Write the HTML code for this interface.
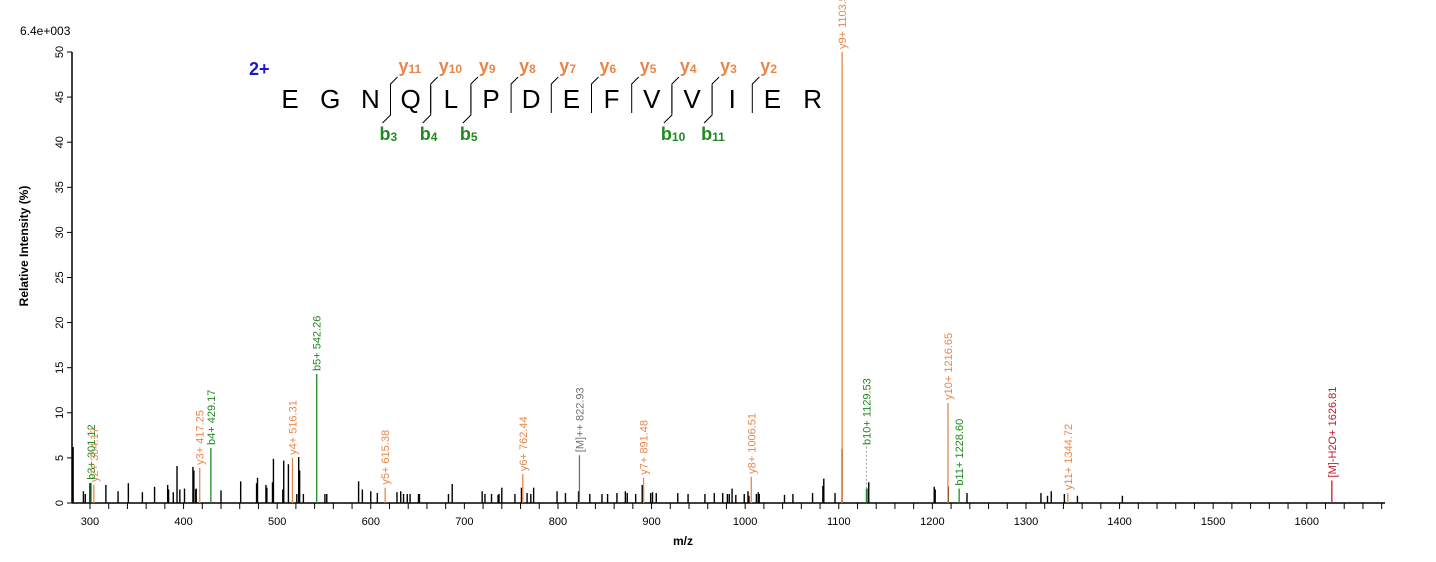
<!DOCTYPE html>
<html><head><meta charset="utf-8"><style>
body{margin:0;background:#fff;}
svg{display:block;font-family:"Liberation Sans",Arial,sans-serif;}
</style></head><body>
<svg id="chart" width="1436" height="562" xmlns="http://www.w3.org/2000/svg">
<text x="20" y="35" font-size="12">6.4e+003</text>
<text transform="translate(28,246) rotate(-90)" text-anchor="middle" font-size="12" font-weight="bold">Relative   Intensity (%)</text>
<text x="683" y="545" text-anchor="middle" font-size="12" font-weight="bold">m/z</text>
<text x="249" y="75" font-size="18" font-weight="bold" fill="#1a1ac8">2+</text>
<g id="axes"></g><g id="peaks"></g><g id="seq"></g>
</svg>
<script>
const peakMz=[282,293,295,300,317,330,341,356,369,383,384,389,393,396,401,410,411,413,413.5,440,461,478,479,488,489,495,496,506,507,512,521,523,524,528,551,553,587,591,600,607,628,632,635,639,642,651,652,683,687,719,722,729,736,737,740,754,761,767,771,774,799,808,822,834,847,853,863,872,874,883,890,899,901,905,928,939,957,967,976,981,983,986,990,999,1003,1004,1012,1014,1015,1042,1051,1072,1083,1084,1096,1103.5,1130,1132,1202,1203,1217,1237,1316,1323,1327,1341,1355,1403];
const peakInt=[6.2,1.3,1.0,2.2,2.0,1.3,2.2,1.2,1.8,2.0,1.5,1.2,4.1,1.5,1.6,4.0,3.6,1.5,1.6,1.4,2.4,2.2,2.8,2.0,1.7,2.3,4.9,1.5,4.7,4.3,1.0,5.1,3.6,1.0,1.0,1.0,2.4,1.5,1.3,1.1,1.2,1.3,1.0,1.0,1.0,1.0,1.0,1.0,2.1,1.3,1.0,1.0,0.9,1.0,1.7,1.0,1.7,1.1,1.0,1.7,1.3,1.1,1.3,1.0,1.0,1.0,1.1,1.3,1.1,1.0,2.0,1.1,1.2,1.1,1.1,1.0,1.0,1.1,1.1,1.0,1.0,1.6,0.9,1.0,1.3,0.8,1.0,1.2,1.0,0.9,1.0,1.1,1.9,2.7,1.1,6.0,1.6,2.3,1.8,1.5,1.8,1.1,1.1,0.8,1.3,1.0,0.8,0.8];
const ionLabels=["b3+ 301.12","y2+ 304.17","y3+ 417.25","b4+ 429.17","y4+ 516.31","b5+ 542.26","y5+ 615.38","y6+ 762.44","[M]++ 822.93","y7+ 891.48","y8+ 1006.51","y9+ 1103.57","b10+ 1129.53","y10+ 1216.65","b11+ 1228.60","y11+ 1344.72","[M]-H2O+ 1626.81"];
const ionMz=[301.12,304.17,417.25,429.17,516.31,542.26,615.38,762.44,822.93,891.48,1006.51,1103.57,1129.53,1216.65,1228.60,1344.72,1626.81];
const ionInt=[2.25,2.0,3.9,6.1,5.0,14.3,1.7,3.2,5.3,2.8,2.9,50,1.6,11.1,1.6,1.1,2.5];
const ionType=["b","y","y","b","y","b","y","y","m","y","y","y","b","y","b","y","w"];
const xTicks=[300,400,500,600,700,800,900,1000,1100,1200,1300,1400,1500,1600];
const yTicks=[0,5,10,15,20,25,30,35,40,45,50];
const residues=["E","G","N","Q","L","P","D","E","F","V","V","I","E","R"];
const yIons=[11,10,9,8,7,6,5,4,3,2];
const bIons=[3,4,5,10,11];

const NS="http://www.w3.org/2000/svg";
const X0=72,X1=1385,MZ0=280.8,PXMZ=0.936,Y0=503,PXI=9.02;
const sx=m=>X0+(m-MZ0)*PXMZ, sy=v=>Y0-v*PXI;
function mk(p,tag,at){const e=document.createElementNS(NS,tag);for(const k in at)e.setAttribute(k,at[k]);p.appendChild(e);return e;}
const axes=document.getElementById('axes'),pk=document.getElementById('peaks'),sq=document.getElementById('seq');
let l=mk(axes,'line',{x1:X0,y1:Y0,x2:X1,y2:Y0,stroke:'#000','stroke-width':1.5});

l=mk(axes,'line',{x1:X0,y1:Y0,x2:X0,y2:sy(50),stroke:'#000','stroke-width':1.5});

for(let m=300;m<=1680;m+=20){const t=mk(axes,'line',{x1:sx(m),y1:Y0,x2:sx(m),y2:Y0+6,stroke:'#000'});
}
xTicks.forEach(v=>{const t=mk(axes,'text',{x:sx(v),y:Y0+22,'text-anchor':'middle','font-size':11});t.textContent=v;
});
yTicks.forEach(v=>{const t=mk(axes,'line',{x1:X0-5,y1:sy(v),x2:X0,y2:sy(v),stroke:'#000'});

const s=mk(axes,'text',{transform:`translate(${X0-9},${sy(v)}) rotate(-90)`,'text-anchor':'middle','font-size':11});s.textContent=v;
});
peakMz.forEach((m,i)=>{const p=mk(pk,'line',{x1:sx(m),y1:Y0,x2:sx(m),y2:sy(peakInt[i]),stroke:'#000','stroke-width':1.4});
});
const col={b:'#1f8a1f',y:'#e8864a',m:'#707070',w:'#c01b2a'};
ionMz.forEach((m,i)=>{const c=col[ionType[i]];const x=sx(m),top=sy(ionInt[i]);
const p=mk(pk,'line',{x1:x,y1:Y0,x2:x,y2:top,stroke:c,'stroke-width':1.3});

let ly=top-3;
if(ionLabels[i].startsWith('b10')){ly=445;const d=mk(pk,'line',{x1:x,y1:top,x2:x,y2:ly,stroke:'#999','stroke-dasharray':'2,2'});
}
const t=mk(pk,'text',{transform:`translate(${x+4},${ly}) rotate(-90)`,'font-size':11,fill:c});t.textContent=ionLabels[i];
});
// sequence
const L0=290,DX=40.2;
residues.forEach((r,i)=>{const t=mk(sq,'text',{x:L0+i*DX,y:108,'text-anchor':'middle','font-size':26});t.textContent=r;
});
const sepX=k=>L0+(k-0.5)*DX; // separator after k residues
yIons.forEach(n=>{const k=residues.length-n,x=sepX(k);
const p=mk(sq,'polyline',{points:`${x},113 ${x},84 ${x+7},77`,fill:'none',stroke:'#000'});

const t=mk(sq,'text',{x:x+8,y:72,'font-size':18,'font-weight':'bold',fill:'#e8864a'});

t.innerHTML=`y<tspan font-size="12" dy="1">${n}</tspan>`;});
bIons.forEach(n=>{const x=sepX(n);
const p=mk(sq,'polyline',{points:`${x},86 ${x},115 ${x-8},123`,fill:'none',stroke:'#000'});

const t=mk(sq,'text',{x:x-11,y:140,'font-size':18,'font-weight':'bold',fill:'#1f8a1f'});

t.innerHTML=`b<tspan font-size="12" dy="1">${n}</tspan>`;});
</script>
</body></html>
